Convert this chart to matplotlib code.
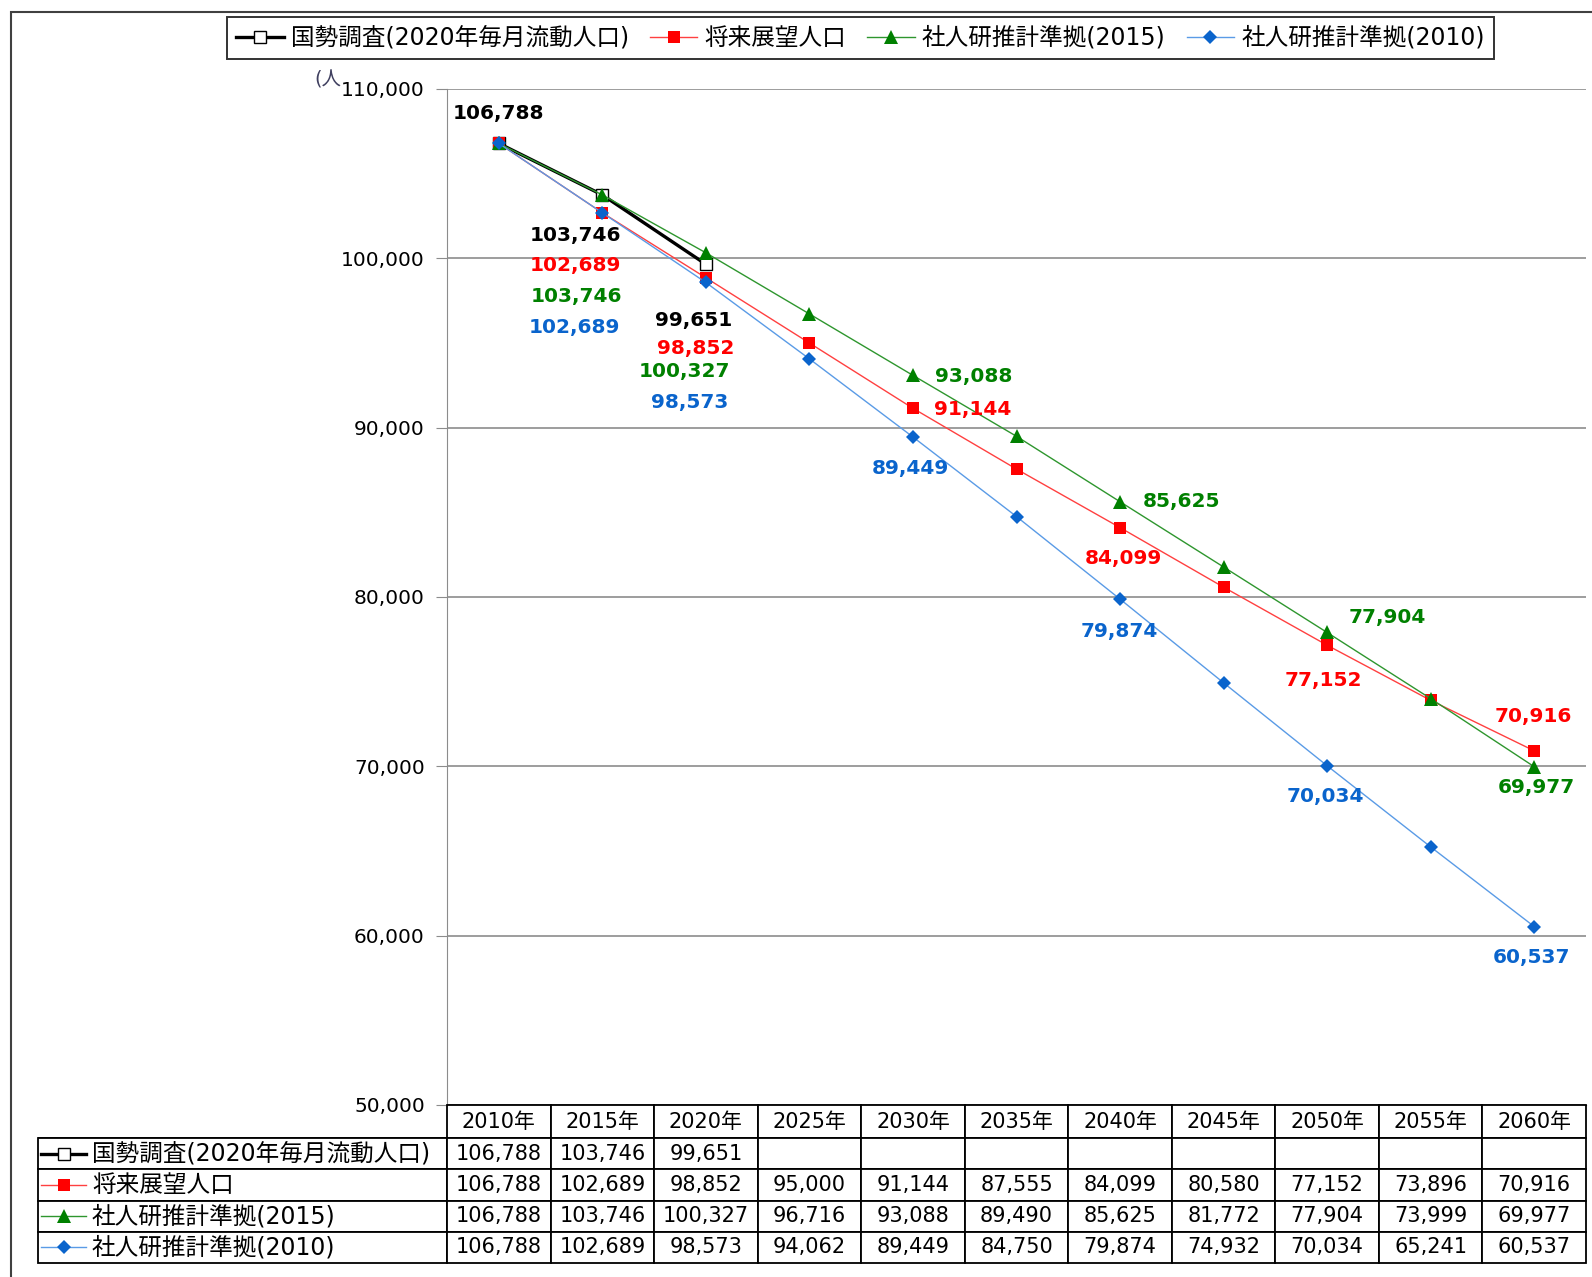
import matplotlib
matplotlib.use("Agg")
import matplotlib.pyplot as plt
from matplotlib.lines import Line2D
from matplotlib.patches import Rectangle
from matplotlib.ticker import FuncFormatter, FixedLocator

plt.rcParams['font.family'] = ['DejaVu Sans', 'Noto Sans CJK JP']

# ---------------- data ----------------
years = ["2010年", "2015年", "2020年", "2025年", "2030年", "2035年",
         "2040年", "2045年", "2050年", "2055年", "2060年"]
series_names = ["国勢調査(2020年毎月流動人口)", "将来展望人口",
                "社人研推計準拠(2015)", "社人研推計準拠(2010)"]
census = [106788, 103746, 99651]
vision = [106788, 102689, 98852, 95000, 91144, 87555, 84099, 80580, 77152, 73896, 70916]
ipss2015 = [106788, 103746, 100327, 96716, 93088, 89490, 85625, 81772, 77904, 73999, 69977]
ipss2010 = [106788, 102689, 98573, 94062, 89449, 84750, 79874, 74932, 70034, 65241, 60537]
y_ticks = [50000, 60000, 70000, 80000, 90000, 100000, 110000]
unit_label = "(人"

# which points carry a data label (index into series) and label offsets in pixels
label_idx = {
    0: [0, 1, 2],
    1: [1, 2, 4, 6, 8, 10],
    2: [1, 2, 4, 6, 8, 10],
    3: [1, 2, 4, 6, 8, 10],
}
label_off = {
    0: [(0, 30), (-27, -41), (-12, -56)],
    1: [(-27, -53), (-10, -71), (60, -1), (3, -31), (-4, -35), (-1, 34)],
    2: [(-26, -102), (-21, -119), (61, -1), (61, 0), (60, 15), (2, -21)],
    3: [(-28, -115), (-16, -120), (-3, -32), (-1, -32), (-2, -31), (-3, -31)],
}

# ---------------- styles ----------------
styles = [
    dict(color="black", lw=2.4, marker="s", ms=8, mfc="white", mec="black", mew=1.0),
    dict(color="#FF4040", lw=1.0, marker="s", ms=9, mfc="#FF0000", mec="#FF0000", mew=0),
    dict(color="#2E962E", lw=1.0, marker="^", ms=10, mfc="#008000", mec="#008000", mew=0),
    dict(color="#5A9BE6", lw=1.0, marker="D", ms=7, mfc="#0A64CC", mec="#0A64CC", mew=0),
]
label_colors = ["black", "#FF0000", "#008000", "#0A64CC"]
all_series = [census, vision, ipss2015, ipss2010]

W, H = 1592, 1277
fig = plt.figure(figsize=(W / 100, H / 100), dpi=100)

def fx(px):
    return px / W

def fy(py):
    return 1 - py / H

# outer frame
fig.patches.append(Rectangle((fx(11), fy(1300)), fx(1620) - fx(11), fy(12) - fy(1300),
                             transform=fig.transFigure, fill=False,
                             edgecolor="#404040", lw=1.5))

# ---------------- main plot ----------------
pl, pr, pt, pb = 447, 1586, 89, 1105
ax = fig.add_axes([fx(pl), fy(pb), fx(pr) - fx(pl), fy(pt) - fy(pb)])
x = list(range(len(years)))
ax.set_xlim(-0.5, len(years) - 0.5)
ax.set_ylim(y_ticks[0], y_ticks[-1])
ax.yaxis.set_major_locator(FixedLocator(y_ticks))
ax.yaxis.set_major_formatter(FuncFormatter(lambda v, p: f"{int(v):,}"))
ax.grid(axis="y", color="#8C8C8C", lw=1.2)
ax.set_axisbelow(True)
ax.set_xticks([])
for s in ["right", "top"]:
    ax.spines[s].set_visible(False)
ax.spines["left"].set_color("#8C8C8C")
ax.spines["bottom"].set_color("black")
ax.tick_params(axis="y", length=8, color="#8C8C8C", pad=8, labelsize=14.5)

handles = []
for i, (vals, st) in enumerate(zip(all_series, styles)):
    xs = x[:len(vals)]
    h, = ax.plot(xs, vals, color=st["color"], lw=st["lw"], marker=st["marker"],
                 ms=st["ms"], mfc=st["mfc"], mec=st["mec"], mew=st["mew"],
                 zorder=3 + i, clip_on=False, label=series_names[i])
    handles.append(h)
    for k, (dx, dy) in zip(label_idx[i], label_off[i]):
        ax.annotate(f"{vals[k]:,}", (xs[k], vals[k]), xytext=(dx, dy),
                    textcoords="offset pixels", ha="center", va="center",
                    fontsize=14.5, fontweight="bold", color=label_colors[i],
                    zorder=10)

fig.text(fx(314), fy(80), unit_label, fontsize=14, color="#404060",
         ha="left", va="center")

# ---------------- legend ----------------
leg = fig.legend(handles=handles, labels=series_names, loc="upper center",
                 bbox_to_anchor=(fx((236 + 1485) / 2), fy(17)), ncol=4,
                 fontsize=17, frameon=True, fancybox=False, edgecolor="black",
                 handlelength=2.0, handletextpad=0.3, columnspacing=0.9,
                 borderpad=0.38, borderaxespad=0)
leg.get_frame().set_linewidth(1.4)

# ---------------- data table ----------------
tl, tr, tt, tb = 38, 1586, 1105, 1263
tax = fig.add_axes([fx(tl), fy(tb), fx(tr) - fx(tl), fy(tt) - fy(tb)])
tax.axis("off")
tax.set_xlim(0, 1)
tax.set_ylim(0, 1)

cell_text = []
for name, vals in zip(series_names, all_series):
    row = [name] + [f"{v:,}" for v in vals] + [""] * (len(years) - len(vals))
    cell_text.append(row)

tbl = tax.table(cellText=cell_text, colLabels=[""] + years,
                cellLoc="center", colLoc="center", bbox=[0, 0, 1, 1])
tbl.auto_set_font_size(False)
tbl.set_fontsize(15)
lab_w = (pl - tl) / (tr - tl)
dat_w = (1 - lab_w) / len(years)
hdr_h = 33 / (tb - tt)
row_h = (1 - hdr_h) / len(series_names)
for (r, c), cell in tbl.get_celld().items():
    cell.set_linewidth(1.3)
    cell.set_edgecolor("black")
    if c == 0:
        cell.set_width(lab_w)
        if r == 0:
            cell.visible_edges = "B"
        else:
            cell.get_text().set_ha("left")
            cell.PAD = 54 / (pl - tl)
            cell.get_text().set_fontsize(17)
    else:
        cell.set_width(dat_w)
    cell.set_height(hdr_h if r == 0 else row_h)

# legend keys inside row label cells
for i, st in enumerate(styles):
    yc = 1 - hdr_h - (i + 0.5) * row_h
    x0, x1 = 3 / (tr - tl), 48 / (tr - tl)
    tax.add_line(Line2D([x0, x1], [yc, yc], color=st["color"], lw=st["lw"],
                        zorder=5))
    tax.add_line(Line2D([(x0 + x1) / 2], [yc], marker=st["marker"], ms=st["ms"],
                        mfc=st["mfc"], mec=st["mec"], mew=st["mew"], ls="none",
                        zorder=6))

fig.savefig("out.png", dpi=100)
